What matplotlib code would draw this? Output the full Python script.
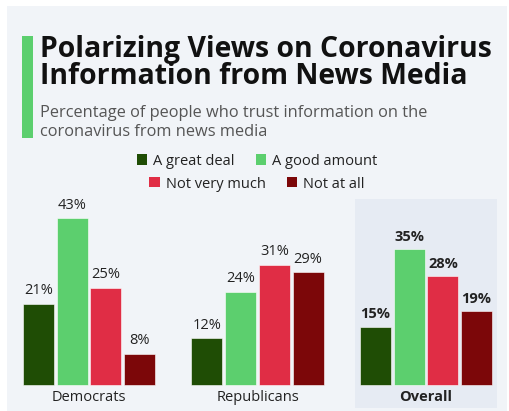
import matplotlib
matplotlib.use("Agg")
import matplotlib.pyplot as plt
from matplotlib.patches import Rectangle, Patch
import numpy as np

plt.rcParams['font.family'] = ['Open Sans', 'DejaVu Sans']

groups = ["Democrats", "Republicans", "Overall"]
series = ["A great deal", "A good amount", "Not very much", "Not at all"]
values = {
    "A great deal":  [21, 12, 15],
    "A good amount": [43, 24, 35],
    "Not very much": [25, 31, 28],
    "Not at all":    [8, 29, 19],
}
colors = ["#1f4d05", "#5ccf6e", "#e02d45", "#7c0709"]

W, H = 509, 411
fig = plt.figure(figsize=(W / 100, H / 100), dpi=100)
fig.patch.set_facecolor("white")
fig.patches.append(Rectangle((7 / W, 0), (W - 9) / W, (H - 6) / H, transform=fig.transFigure,
                             facecolor="#f1f4f8", edgecolor="none", zorder=-5))

# axes covering full figure; map px -> data
px_per_unit_x = 168.5
px_per_unit_y = 3.88
x0_px = 89.0
base_px = 385.0
ax = fig.add_axes([0, 0, 1, 1], zorder=1)
ax.set_xlim(-x0_px / px_per_unit_x, (W - x0_px) / px_per_unit_x)
ax.set_ylim(-(H - base_px) / px_per_unit_y, base_px / px_per_unit_y)
ax.axis("off")
ax.patch.set_alpha(0)

# highlight for Overall
ax.add_patch(Rectangle((2 - 0.42, -5.9), 0.84, 53.8, facecolor="#e6ebf3",
                       edgecolor="none", zorder=1))

x = np.arange(len(groups))
step = 0.2
width = 0.184
for i, s in enumerate(series):
    xs = x + (i - 1.5) * step
    bars = ax.bar(xs, values[s], width=width, color=colors[i], zorder=2,
                  edgecolor="white", linewidth=0.4)
    for j, (b, v) in enumerate(zip(bars, values[s])):
        ax.annotate(f"{v}%", (b.get_x() + b.get_width() / 2, v), xytext=(0, 4),
                    textcoords="offset points", ha="center", va="bottom",
                    fontsize=10.5, color="#222222",
                    fontweight="bold" if groups[j] == "Overall" else "normal", zorder=3)

for j, g in enumerate(groups):
    ax.text(j, -3.1, g, ha="center", va="center", fontsize=10.5, color="#222222",
            fontweight="bold" if g == "Overall" else "normal", zorder=3)

# title block
fig.patches.append(Rectangle((22 / W, 1 - 138 / H), 11 / W, 102 / H, transform=fig.transFigure,
                             facecolor="#5ccf6e", edgecolor="none", zorder=2))
fig.text(40 / W, 1 - 49 / H, "Polarizing Views on Coronavirus", fontsize=20.4, fontweight="bold",
         color="#111111", va="center", ha="left")
fig.text(40 / W, 1 - 77 / H, "Information from News Media", fontsize=20.4, fontweight="bold",
         color="#111111", va="center", ha="left")
fig.text(40 / W, 1 - 113 / H, "Percentage of people who trust information on the",
         fontsize=11.8, color="#555555", va="center", ha="left")
fig.text(40 / W, 1 - 132 / H, "coronavirus from news media",
         fontsize=11.8, color="#555555", va="center", ha="left")

# legends
handles = [Patch(facecolor=c, edgecolor="none") for c in colors]
leg_kw = dict(ncol=2, frameon=False, fontsize=10.5, handlelength=0.7, handleheight=0.7,
              handletextpad=0.42, columnspacing=1.45, borderpad=0, labelcolor="#222222")
leg1 = fig.legend(handles[:2], series[:2], loc="center", bbox_to_anchor=(257 / W, 1 - 161 / H), **leg_kw)
leg2 = fig.legend(handles[2:], series[2:], loc="center", bbox_to_anchor=(257 / W, 1 - 184 / H), **leg_kw)

fig.savefig("out.png", dpi=100, facecolor=fig.get_facecolor())
